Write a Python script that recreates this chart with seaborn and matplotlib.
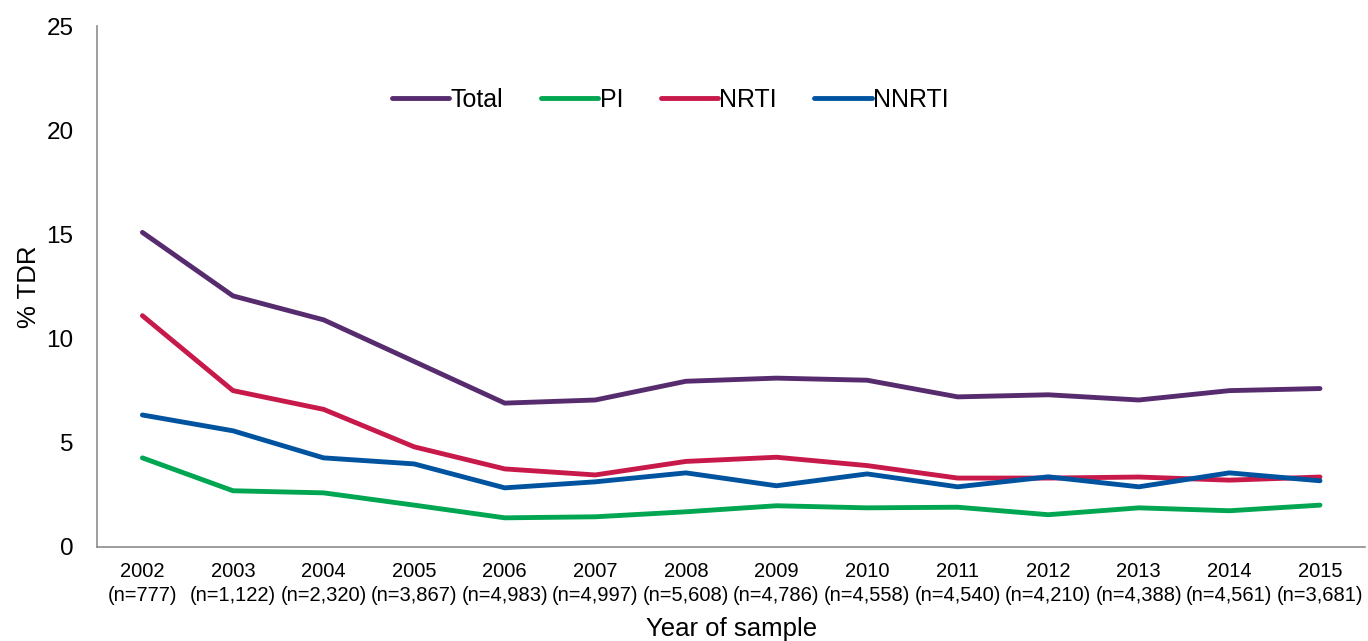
import numpy as np
import pandas as pd
import matplotlib
matplotlib.use('agg')
import matplotlib.pyplot as plt
import seaborn as sns

# data
years = ["2002", "2003", "2004", "2005", "2006", "2007", "2008",
         "2009", "2010", "2011", "2012", "2013", "2014", "2015"]
n_samples = ["777", "1,122", "2,320", "3,867", "4,983", "4,997", "5,608",
             "4,786", "4,558", "4,540", "4,210", "4,388", "4,561", "3,681"]
total = [15.1, 12.05, 10.9, 8.9, 6.9, 7.05, 7.95, 8.1, 8.0, 7.2, 7.3, 7.05, 7.5, 7.6]
pi = [4.27, 2.69, 2.59, 2.0, 1.39, 1.44, 1.68, 1.97, 1.87, 1.9, 1.54, 1.87, 1.73, 2.0]
nrti = [11.1, 7.5, 6.6, 4.8, 3.74, 3.45, 4.1, 4.3, 3.9, 3.3, 3.3, 3.35, 3.2, 3.35]
nnrti = [6.33, 5.57, 4.27, 3.98, 2.83, 3.12, 3.55, 2.93, 3.5, 2.88, 3.36, 2.88, 3.55, 3.17]

series = {"Total": total, "PI": pi, "NRTI": nrti, "NNRTI": nnrti}
colors = {"Total": "#562c6e", "PI": "#00a651", "NRTI": "#c8194b", "NNRTI": "#00539f"}

rows = []
for name, vals in series.items():
    for i, v in enumerate(vals):
        rows.append({"pos": i, "value": v, "class": name})
df = pd.DataFrame(rows)

sns.set_style("white")
plt.rcParams['font.family'] = ['Liberation Sans', 'DejaVu Sans']
plt.rcParams['text.color'] = 'black'
plt.rcParams['axes.labelcolor'] = 'black'
plt.rcParams['xtick.color'] = 'black'
plt.rcParams['ytick.color'] = 'black'

fig = plt.figure(figsize=(13.68, 6.41), dpi=100)
ax = fig.add_axes([0.071, 0.147, 0.927, 0.812])

sns.lineplot(data=df, x="pos", y="value", hue="class", palette=colors,
             hue_order=list(series.keys()), linewidth=3.5, ax=ax,
             solid_capstyle="round")

ax.set_xlim(-0.5, 13.5)
ax.set_ylim(0, 25)
ax.set_yticks(np.arange(0, 26, 5))
ax.set_xticks(range(len(years)))
ax.set_xticklabels([f"{y}\n(n={n})" for y, n in zip(years, n_samples)],
                   fontsize=14.5, linespacing=1.3)
ax.set_xticks(np.arange(-0.5, 14, 1), minor=True)
ax.tick_params(axis="x", which="major", length=0, pad=11)
ax.tick_params(axis="x", which="minor", length=6, color="#8c8c8c", width=1, direction="out")
ax.tick_params(axis="y", length=5, color="#8c8c8c", width=1, direction="out",
               labelsize=17.5, pad=12)

for side in ["top", "right"]:
    ax.spines[side].set_visible(False)
for side in ["left", "bottom"]:
    ax.spines[side].set_color("#8c8c8c")
    ax.spines[side].set_linewidth(1.2)

ax.set_xlabel("Year of sample", fontsize=18.5, labelpad=9)
ax.set_ylabel("% TDR", fontsize=18.5, labelpad=4)

handles, labels = ax.get_legend_handles_labels()
ax.legend(handles, labels, loc="center", bbox_to_anchor=(0.452, 0.858), ncol=4,
          frameon=False, fontsize=18, handlelength=2.3, handletextpad=0.05,
          columnspacing=1.5)

plt.savefig("out.png", dpi=100)
